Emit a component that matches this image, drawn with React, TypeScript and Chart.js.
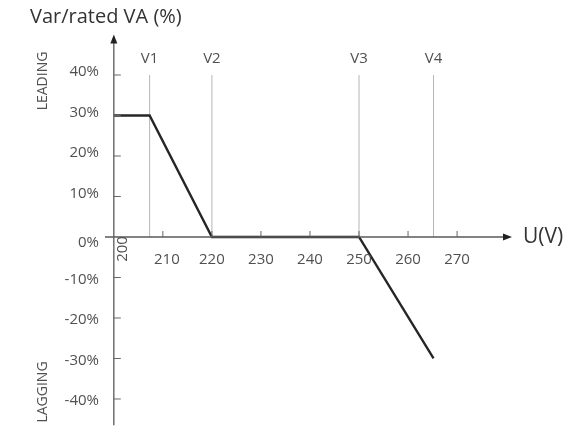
import { useEffect, useRef } from 'react';
import { Chart, registerables } from 'chart.js';

Chart.register(...registerables);

// Data
const voltages = [200, 207.3, 220, 250, 265.2];
const varPercent = [30, 30, 0, 0, -30];
const markerNames = ['V1', 'V2', 'V3', 'V4'];
const markerVoltages = [207.3, 220, 250, 265.2];
const markerTopPercent = 40;
const xTicks = [200, 210, 220, 230, 240, 250, 260, 270];
const yTicks = [-40, -30, -20, -10, 0, 10, 20, 30, 40];
const xRange = [198.2, 281.2];
const yRange = [-46.5, 50];

const FONT = '"Open Sans", "Noto Sans", sans-serif';

const axisPlugin = {
  id: 'customAxes',
  afterDraw(chart: any) {
    const { ctx, chartArea } = chart;
    const xs = chart.scales.x;
    const ys = chart.scales.y;
    const x0 = xs.getPixelForValue(200);
    const y0 = ys.getPixelForValue(0);
    ctx.save();

    // axes lines
    ctx.strokeStyle = '#5a5a5a';
    ctx.lineWidth = 1.3;
    ctx.beginPath();
    ctx.moveTo(x0, chartArea.bottom);
    ctx.lineTo(x0, chartArea.top + 4);
    ctx.moveTo(chartArea.left, y0);
    ctx.lineTo(chartArea.right - 4, y0);
    ctx.stroke();

    // arrowheads
    ctx.fillStyle = '#222';
    ctx.beginPath();
    ctx.moveTo(x0, chartArea.top);
    ctx.lineTo(x0 - 3.5, chartArea.top + 9);
    ctx.lineTo(x0 + 3.5, chartArea.top + 9);
    ctx.closePath();
    ctx.fill();
    ctx.beginPath();
    ctx.moveTo(chartArea.right, y0);
    ctx.lineTo(chartArea.right - 9, y0 - 3.5);
    ctx.lineTo(chartArea.right - 9, y0 + 3.5);
    ctx.closePath();
    ctx.fill();

    // y ticks
    ctx.strokeStyle = '#666';
    ctx.lineWidth = 1;
    ctx.fillStyle = '#505050';
    ctx.font = `15px ${FONT}`;
    ctx.textAlign = 'right';
    ctx.textBaseline = 'middle';
    yTicks.forEach((v) => {
      const py = ys.getPixelForValue(v);
      if (v !== 0) {
        ctx.beginPath();
        ctx.moveTo(x0, py);
        ctx.lineTo(x0 + 7, py);
        ctx.stroke();
      }
      const off = v === 0 ? 6 : v > 0 ? -3 : 2;
      ctx.fillText(`${v}%`, 99, py + off);
    });

    // x ticks
    xTicks.forEach((v) => {
      const px = xs.getPixelForValue(v);
      if (v !== 200) {
        ctx.beginPath();
        ctx.moveTo(px, y0);
        ctx.lineTo(px, y0 - 6);
        ctx.stroke();
        ctx.textAlign = 'center';
        ctx.textBaseline = 'middle';
        ctx.fillText(String(v), px + (v === 210 ? 4 : 0), y0 + 23);
      } else {
        ctx.save();
        ctx.translate(px + 9, y0 + 12);
        ctx.rotate(-Math.PI / 2);
        ctx.textAlign = 'center';
        ctx.textBaseline = 'middle';
        ctx.fillText(String(v), 0, 0);
        ctx.restore();
      }
    });

    // marker labels
    ctx.textAlign = 'center';
    ctx.textBaseline = 'middle';
    markerNames.forEach((name, i) => {
      const px = xs.getPixelForValue(markerVoltages[i]);
      ctx.fillText(name, px, ys.getPixelForValue(markerTopPercent) - 16);
    });

    // side labels
    ctx.font = `14px ${FONT}`;
    const side = (text: string, cx: number, cy: number) => {
      ctx.save();
      ctx.translate(cx, cy);
      ctx.rotate(-Math.PI / 2);
      ctx.textAlign = 'center';
      ctx.textBaseline = 'middle';
      ctx.fillText(text, 0, 0);
      ctx.restore();
    };
    side('LEADING', 43, 81);
    side('LAGGING', 43, 392);

    // title and axis name
    ctx.fillStyle = '#333';
    ctx.font = `20px ${FONT}`;
    ctx.textAlign = 'left';
    ctx.textBaseline = 'middle';
    ctx.fillText('Var/rated VA (%)', 30, 17);
    ctx.font = `21px ${FONT}`;
    ctx.fillText('U(V)', 523, y0);

    ctx.restore();
  },
};

export default function App() {
  const ref = useRef<HTMLCanvasElement | null>(null);
  useEffect(() => {
    document.body.style.margin = '0';
    document.body.style.overflow = 'hidden';
    const canvas = ref.current;
    if (!canvas) return;
    const markerSets = markerVoltages.map((v) => ({
      data: [
        { x: v, y: 0 },
        { x: v, y: markerTopPercent },
      ],
      borderColor: '#b5b5b5',
      borderWidth: 1,
      pointRadius: 0,
      order: 2,
    }));
    const chart = new Chart(canvas, {
      type: 'scatter',
      data: {
        datasets: [
          ...markerSets,
          {
            data: voltages.map((v, i) => ({ x: v, y: varPercent[i] })),
            showLine: true,
            borderColor: '#262626',
            borderWidth: 2.4,
            pointRadius: 0,
            order: 1,
          },
        ] as any,
      },
      options: {
        responsive: false,
        animation: false,
        events: [],
        layout: { padding: { left: 105, right: 70, top: 34.5, bottom: 6.7 } },
        plugins: { legend: { display: false }, tooltip: { enabled: false } },
        datasets: { scatter: { showLine: true } } as any,
        scales: {
          x: { type: 'linear', min: xRange[0], max: xRange[1], display: false },
          y: { type: 'linear', min: yRange[0], max: yRange[1], display: false },
        },
      },
      plugins: [axisPlugin],
    });
    return () => chart.destroy();
  }, []);
  return <canvas ref={ref} width={582} height={432} style={{ display: 'block' }} />;
}
